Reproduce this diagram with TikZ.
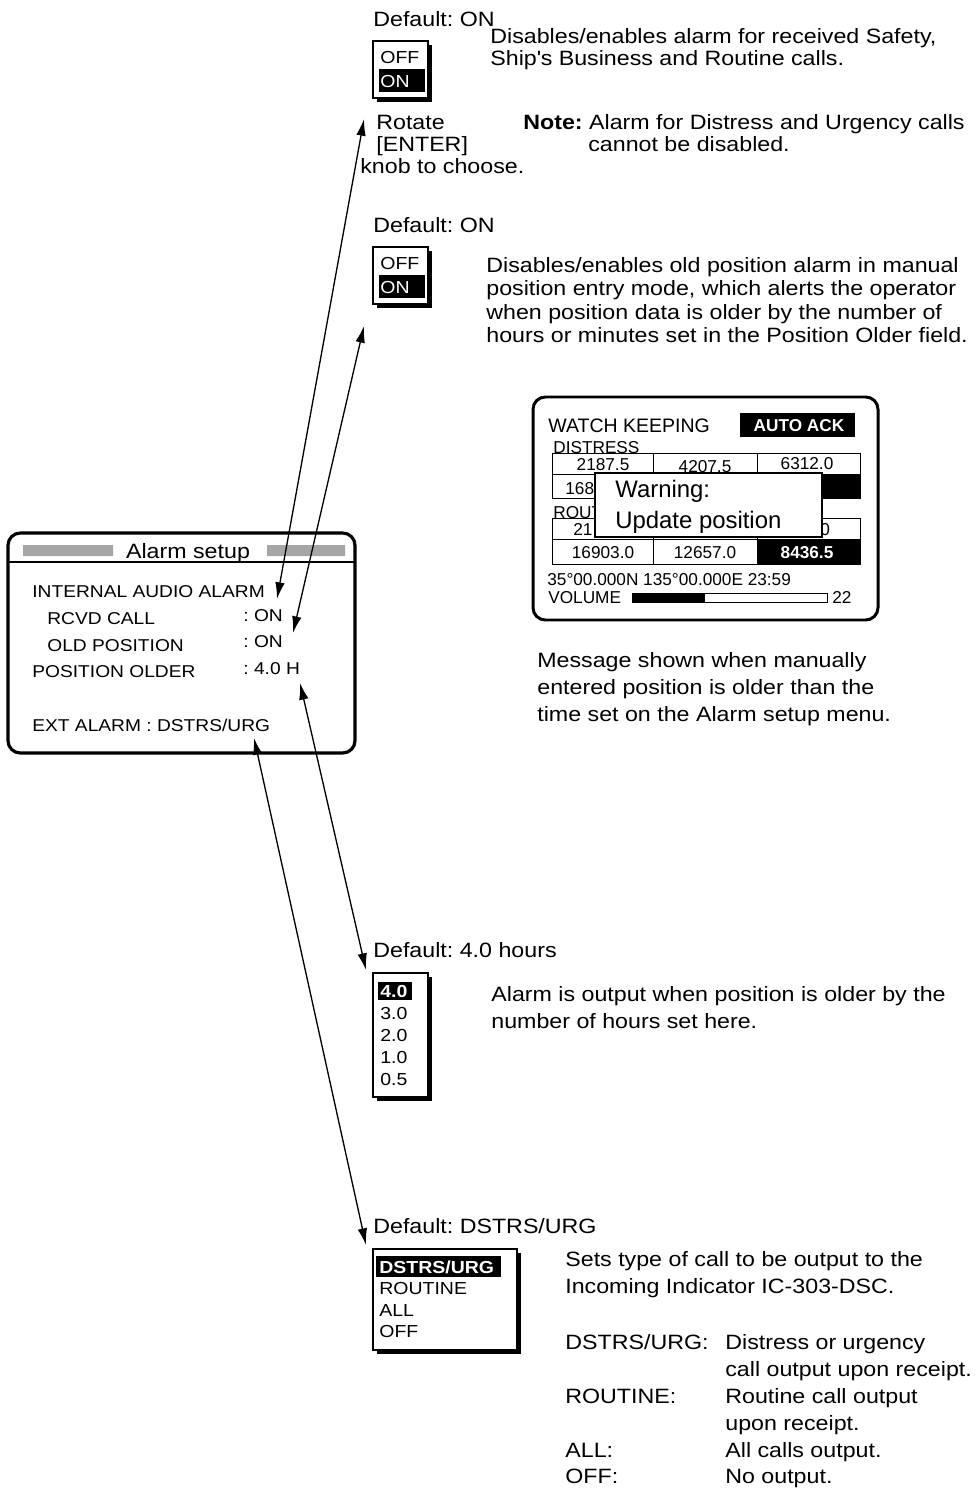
\documentclass[tikz,border=0pt]{standalone}
\usepackage{fontspec}
\setmainfont{Liberation Sans}[FakeStretch=1.12]
\newfontfamily\lcdfont{Liberation Sans}
\usetikzlibrary{arrows.meta}
\frenchspacing

\begin{document}
\begin{tikzpicture}[x=0.02cm, y=-0.02cm, >={Latex[length=9.5pt,width=5.4pt]},
	txt/.style={anchor=base west, inner sep=0pt, font=\fontsize{11.8}{14}\selectfont},
	menu/.style={anchor=base west, inner sep=0pt, font=\fontsize{9.75}{12}\selectfont},
	item/.style={anchor=base west, inner sep=0pt, font=\fontsize{9.9}{12}\selectfont},
	hi/.style={item, text=white, font=\fontsize{9.9}{12}\selectfont\bfseries},
	lcd/.style={anchor=base west, inner sep=0pt, font=\lcdfont\fontsize{9.8}{12}\selectfont},
	lcdhi/.style={lcd, anchor=base, text=white, font=\lcdfont\fontsize{9.8}{12}\selectfont\bfseries},
	big/.style={lcd, font=\lcdfont\fontsize{13.6}{16}\selectfont},
	cell/.style={draw, line width=0.6pt, fill=white},
	frame/.style={draw, fill=white, line width=1.8pt, rounded corners=7pt},
	link/.style={<->, line width=0.75pt}]
	\useasboundingbox (0,0) rectangle (979,1493);
	% Alarm setup menu
	\draw[frame] (8,533) rectangle (355,753);
	\fill[black!35] (23,545) rectangle (113,556) (267,545) rectangle (345,556);
	\node[txt, anchor=base] (title) at (188,558) {Alarm setup};
	\draw[line width=0.6pt] (8,562) -- (355,562);
	\node[menu] (iaa) at (32,597) {INTERNAL AUDIO ALARM};
	\node[menu] (rcvd) at (47,624) {RCVD CALL};
	\node[menu] (rcvdval) at (243,621) {: ON};
	\node[menu] (oldpos) at (47,651) {OLD POSITION};
	\node[menu] (oldposval) at (243,647) {: ON};
	\node[menu] (older) at (32,677) {POSITION OLDER};
	\node[menu] (olderval) at (243,674) {: 4.0 H};
	\node[menu] (ext) at (32,731) {EXT ALARM : DSTRS/URG};
	% OFF/ON windows
	\foreach \dy/\n in {0/a,206/b} {
		\node[txt] (def\n) at (373,27+\dy) {Default: ON};
		\fill (377,45+\dy) rectangle (432,102+\dy);
		\draw[cell] (373,41+\dy) rectangle (428,98+\dy);
		\fill (379,69+\dy) rectangle (425,92+\dy);
		\node[item] (off\n) at (380,64+\dy) {OFF};
		\node[item, text=white] (on\n) at (380,88+\dy) {ON};
	}
	\node[txt] (d1a) at (490,44) {Disables/enables alarm for received Safety,};
	\node[txt] (d1b) at (490,66) {Ship\textquotesingle s Business and Routine calls.};
	\node[txt] (rot1) at (376,130) {Rotate};
	\node[txt] (rot2) at (376,152) {[ENTER]};
	\node[txt] (rot3) at (360,174) {knob to choose.};
	\node[txt] (note1) at (523,130) {\textbf{Note:} Alarm for Distress and Urgency calls};
	\node[txt] (note2) at (588,152) {cannot be disabled.};
	\node[txt] (d2a) at (486,273) {Disables/enables old position alarm in manual};
	\node[txt] (d2b) at (486,296) {position entry mode, which alerts the operator};
	\node[txt] (d2c) at (486,319) {when position data is older by the number of};
	\node[txt] (d2d) at (486,342) {hours or minutes set in the Position Older field.};
	% watch keeping screen
	\draw[frame, line width=1.7pt] (533,397) rectangle (878,620);
	\node[lcd, font=\lcdfont\fontsize{11.1}{12}\selectfont] (wk) at (548,432) {WATCH KEEPING};
	\fill (740,413) rectangle (855,437);
	\node[lcdhi] (ack) at (799,431) {AUTO ACK};
	\node[lcd] (dist) at (553,453) {DISTRESS};
	\node[lcd] (rout) at (553,518) {ROUT};
	\foreach \ya/\yb in {453/474,474/498,518/539,539/564}
		\foreach \xa/\xb in {552/653,653/757,757/860}
			\draw[line width=0.5pt] (\xa,\ya) rectangle (\xb,\yb);
	\fill (757,474) rectangle (860,498) (757,539) rectangle (860,564);
	\node[lcd, anchor=base] (f1) at (603,470) {2187.5};
	\node[lcd, anchor=base] (f2) at (705,472) {4207.5};
	\node[lcd, anchor=base] (f3) at (807,469) {6312.0};
	\node[lcd] (f4) at (565,494) {168};
	\node[lcd] (f7) at (573,535) {21};
	\node[lcd] (f9) at (820,535) {0};
	\node[lcd, anchor=base] (f10) at (603,558) {16903.0};
	\node[lcd, anchor=base] (f11) at (705,558) {12657.0};
	\node[lcdhi] (f12) at (807,558) {8436.5};
	\draw[cell] (595,473) rectangle (822,537);
	\node[big] (warn) at (615,497) {Warning:};
	\node[big] (upd) at (615,528) {Update position};
	\node[lcd] (pos) at (547,585) {35°00.000N 135°00.000E 23:59};
	\node[lcd] (vol) at (548,603) {VOLUME};
	\draw[line width=0.5pt] (632,593) rectangle (827,602);
	\fill (632,593) rectangle (705,602);
	\node[lcd] (volval) at (832,603) {22};
	\node[txt] (msg1) at (537,667) {Message shown when manually};
	\node[txt] (msg2) at (537,694) {entered position is older than the};
	\node[txt] (msg3) at (537,721) {time set on the Alarm setup menu.};
	% hours window
	\node[txt] (defc) at (373,957) {Default: 4.0 hours};
	\fill (377,977) rectangle (432,1101);
	\draw[cell] (373,973) rectangle (428,1097);
	\fill (378,982) rectangle (412,1000);
	\node[hi] (h0) at (380,997) {4.0};
	\foreach \v [count=\i] in {3.0,2.0,1.0,0.5}
		\node[item] (h\i) at (380,997+22*\i) {\v};
	\node[txt] (d3a) at (491,1001) {Alarm is output when position is older by the};
	\node[txt] (d3b) at (491,1028) {number of hours set here.};
	% ext alarm window
	\node[txt] (defd) at (373,1233) {Default: DSTRS/URG};
	\fill (377,1253) rectangle (521,1354);
	\draw[cell] (373,1249) rectangle (517,1350);
	\fill (376,1256) rectangle (501,1277);
	\node[hi] (e0) at (379,1273) {DSTRS/URG};
	\foreach \v [count=\i] in {ROUTINE,ALL,OFF}
		\node[item] (e\i) at (379,1273+21.5*\i) {\v};
	\node[txt] (d4a) at (565,1266) {Sets type of call to be output to the};
	\node[txt] (d4b) at (565,1293) {Incoming Indicator IC-303-DSC.};
	\node[txt] (k0) at (565,1349) {DSTRS/URG:};
	\node[txt] (t0) at (725,1349) {Distress or urgency};
	\node[txt] (t1) at (725,1376) {call output upon receipt.};
	\node[txt] (k2) at (565,1403) {ROUTINE:};
	\node[txt] (t2) at (725,1403) {Routine call output};
	\node[txt] (t3) at (725,1430) {upon receipt.};
	\node[txt] (k4) at (565,1457) {ALL:};
	\node[txt] (t4) at (725,1457) {All calls output.};
	\node[txt] (k5) at (565,1483) {OFF:};
	\node[txt] (t5) at (725,1483) {No output.};
	% arrows
	\coordinate (callTop) at (364,119);
	\coordinate (callEnd) at (277,599);
	\coordinate (oldTop) at (364,326);
	\coordinate (oldEnd) at (293,633);
	\coordinate (olderEnd) at (300,683);
	\coordinate (olderTop) at (366,970);
	\coordinate (extEnd) at (254,738);
	\coordinate (extTop) at (366,1245);
	\draw[link] (callTop) -- (callEnd);
	\draw[link] (oldTop) -- (oldEnd);
	\draw[link] (olderEnd) -- (olderTop);
	\draw[link] (extEnd) -- (extTop);
\end{tikzpicture}
\end{document}
